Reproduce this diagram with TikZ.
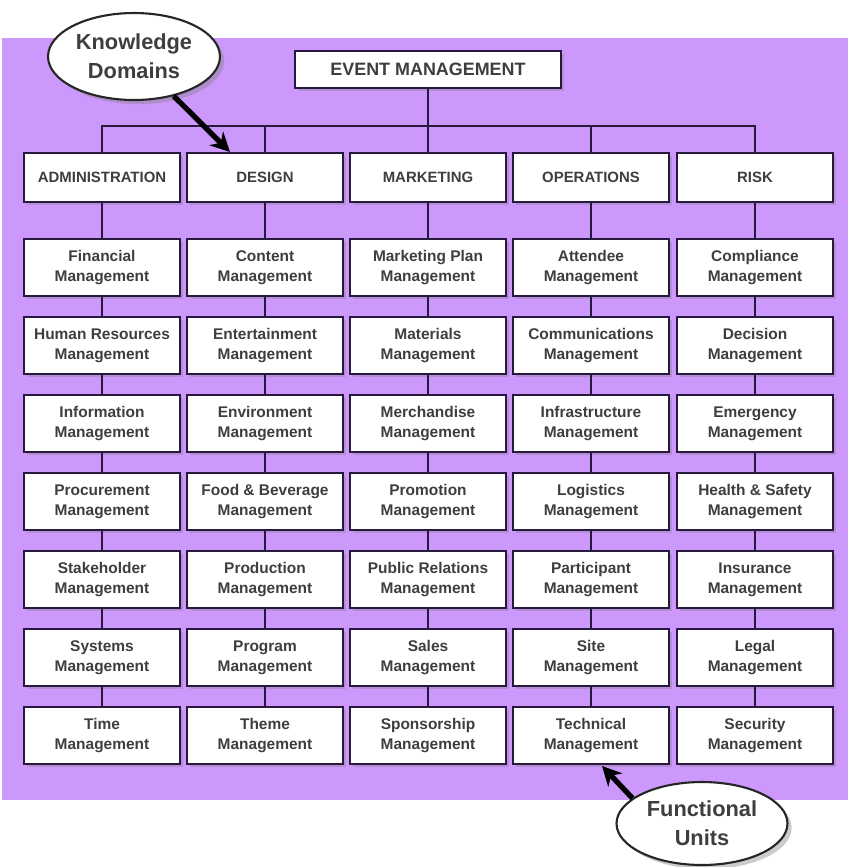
\documentclass[tikz,border=0pt]{standalone}
\usepackage{fontspec}
\setmainfont{Liberation Sans}
\usetikzlibrary{shapes.geometric,shadows,arrows.meta}
\definecolor{bgviolet}{RGB}{205,152,252}
\definecolor{edge}{RGB}{40,24,62}
\definecolor{ink}{RGB}{62,62,62}
\begin{document}
\begin{tikzpicture}[x=0.02cm,y=-0.02cm,
		box/.style={draw=edge,line width=1.1pt,fill=white,align=center,text=ink,inner sep=0pt,
			drop shadow={shadow xshift=1.6pt,shadow yshift=-1.6pt,opacity=0.35}},
		headbox/.style={box,minimum width=3.12cm,minimum height=0.98cm,font=\bfseries\fontsize{8.5}{11}\selectfont},
		unitbox/.style={box,minimum width=3.12cm,minimum height=1.14cm,font=\bfseries\fontsize{8.8}{11.4}\selectfont},
		bubble/.style={ellipse,draw=black!85,line width=1.2pt,fill=white,align=center,text=ink,inner sep=0pt,
			font=\bfseries\fontsize{12.4}{16.5}\selectfont,drop shadow={shadow xshift=2.4pt,shadow yshift=-2.4pt,opacity=0.4}},
		wire/.style={draw=edge,line width=1.3pt},
		pointer/.style={draw=black,line width=3pt,-{Stealth[length=11pt,width=11pt]}}]
				\useasboundingbox (0,0) rectangle (848,867);
				\fill[bgviolet] (2,38) rectangle (848,800);
				\node[box,minimum width=5.32cm,minimum height=0.74cm,font=\bfseries\fontsize{10.2}{12}\selectfont] (event) at (428,69.5) {EVENT MANAGEMENT};
				\coordinate (bus) at (0,126);
				\foreach \col/\cx/\head/\units in {
					adm/102/ADMINISTRATION/{Financial,Human Resources,Information,Procurement,Stakeholder,Systems,Time},
					des/265/DESIGN/{Content,Entertainment,Environment,Food \& Beverage,Production,Program,Theme},
					mkt/428/MARKETING/{Marketing Plan,Materials,Merchandise,Promotion,Public Relations,Sales,Sponsorship},
					ops/591/OPERATIONS/{Attendee,Communications,Infrastructure,Logistics,Participant,Site,Technical},
					risk/755/RISK/{Compliance,Decision,Emergency,Health \& Safety,Insurance,Legal,Security}}{
					\node[headbox] (\col-0) at (\cx,177.5) {\head};
					\draw[wire] (\col-0.north|-bus) -- (\col-0.north);
					\foreach \unit [count=\r, remember=\r as \lastr (initially 0)] in \units {
						\node[unitbox] (\col-\r) at (\cx,{189.5+78*\r}) {\unit\\Management};
						\draw[wire] (\col-\lastr) -- (\col-\r);
					}
				}
				\draw[wire] (event) -- (event|-bus);
				\draw[wire,line cap=rect] (adm-0.north|-bus) -- (risk-0.north|-bus);
				\node[bubble,minimum width=3.44cm,minimum height=1.74cm] (domains) at (134,56.5) {Knowledge\\Domains};
				\node[bubble,minimum width=3.42cm,minimum height=1.66cm] (units) at (702,823.5) {Functional\\Units};
				\coordinate (domtip) at (230,152);
				\coordinate (unittip) at (602,766);
				\draw[pointer] (domains) -- (domtip);
				\draw[pointer] (units.160) -- (unittip);
			\end{tikzpicture}
\end{document}
